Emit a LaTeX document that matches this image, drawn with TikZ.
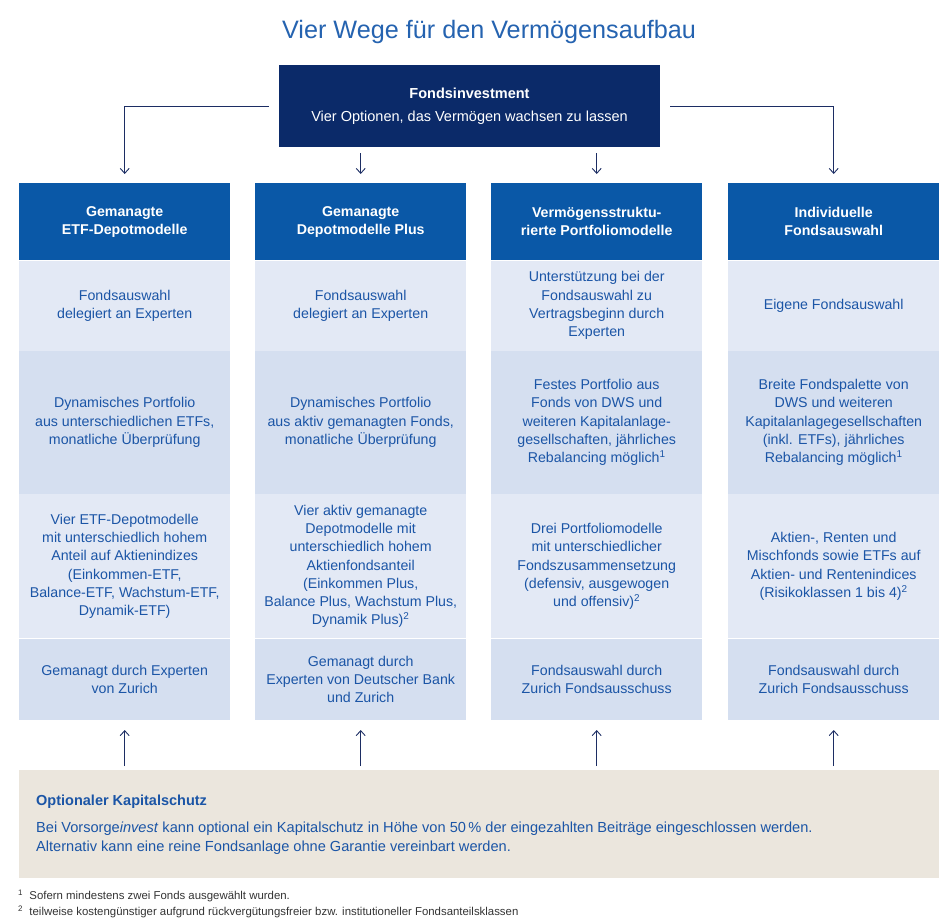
\documentclass[tikz,border=0pt]{standalone}
\usepackage{fontspec}
\setmainfont{Liberation Sans}
\usetikzlibrary{arrows.meta,positioning,calc}

\definecolor{titleblue}{HTML}{2563B0}
\definecolor{navy}{HTML}{0B2A69}
\definecolor{headblue}{HTML}{0A58A7}
\definecolor{rowlight}{HTML}{E3E9F5}
\definecolor{rowdark}{HTML}{D5DFF0}
\definecolor{textblue}{HTML}{1B55A6}
\definecolor{linknavy}{HTML}{1C2D63}
\definecolor{beige}{HTML}{EBE6DD}
\definecolor{notegray}{HTML}{333333}

\newcommand{\fnmark}[1]{\textsuperscript{#1}}

\tikzset{
  cell/.style={inner sep=0pt,minimum width=211pt,align=center,
    font=\fontsize{14.2}{18.3}\selectfont},
  cellhead/.style={cell,fill=headblue,text=white,minimum height=77pt,
    font=\bfseries\fontsize{14.2}{18.3}\selectfont},
  celllight/.style={cell,fill=rowlight,text=textblue},
  celldark/.style={cell,fill=rowdark,text=textblue},
  link/.style={draw=linknavy,line width=0.9pt,-{Straight Barb[length=5pt,width=9pt]}},
  footnote/.style={anchor=base west,inner sep=0pt,text=notegray,font=\fontsize{11.4}{13}\selectfont}
}

\begin{document}
\begin{tikzpicture}[x=1pt,y=-1pt]
\useasboundingbox (0,0) rectangle (949,919);

% Titel
\node[text=titleblue,font=\fontsize{25.2}{30}\selectfont] (title) at (489,32) {Vier Wege f\"ur den Verm\"ogensaufbau};

% Fondsinvestment
\node[fill=navy,text=white,minimum width=381pt,minimum height=82pt,align=center,
  font=\fontsize{14.5}{18.3}\selectfont] (fonds) at (469.5,106)
  {\textbf{Fondsinvestment}\\[5pt]Vier Optionen, das Verm\"ogen wachsen zu lassen};

% Spalte 1
\node[cellhead,anchor=north west] (h1) at (19,183) {Gemanagte\\ETF-Depotmodelle};
\node[celllight,minimum height=90pt,below=0pt of h1] (r11) {Fondsauswahl\\delegiert an Experten};
\node[celldark,minimum height=143pt,below=0pt of r11] (r12) {Dynamisches Portfolio\\aus unterschiedlichen ETFs,\\monatliche \"Uberpr\"ufung};
\node[celllight,minimum height=144pt,below=0pt of r12] (r13) {Vier ETF-Depotmodelle\\mit unterschiedlich hohem\\Anteil auf Aktienindizes\\(Einkommen-ETF,\\Balance-ETF, Wachstum-ETF,\\Dynamik-ETF)};
\node[celldark,minimum height=81pt,below=0pt of r13] (r14) {Gemanagt durch Experten\\von Zurich};

% Spalte 2
\node[cellhead,anchor=north west] (h2) at (255,183) {Gemanagte\\Depotmodelle Plus};
\node[celllight,minimum height=90pt,below=0pt of h2] (r21) {Fondsauswahl\\delegiert an Experten};
\node[celldark,minimum height=143pt,below=0pt of r21] (r22) {Dynamisches Portfolio\\aus aktiv gemanagten Fonds,\\monatliche \"Uberpr\"ufung};
\node[celllight,minimum height=144pt,below=0pt of r22] (r23) {Vier aktiv gemanagte\\Depotmodelle mit\\unterschiedlich hohem\\Aktienfondsanteil\\(Einkommen Plus,\\Balance Plus, Wachstum Plus,\\Dynamik Plus)\fnmark{2}};
\node[celldark,minimum height=81pt,below=0pt of r23] (r24) {Gemanagt durch\\Experten von Deutscher Bank\\und Zurich};

% Spalte 3
\node[cellhead,anchor=north west] (h3) at (491,183) {Verm\"ogensstruktu-\\rierte Portfoliomodelle};
\node[celllight,minimum height=90pt,below=0pt of h3] (r31) {Unterst\"utzung bei der\\Fondsauswahl zu\\Vertragsbeginn durch\\Experten};
\node[celldark,minimum height=143pt,below=0pt of r31] (r32) {Festes Portfolio aus\\Fonds von DWS und\\weiteren Kapitalanlage-\\gesellschaften, j\"ahrliches\\Rebalancing m\"oglich\fnmark{1}};
\node[celllight,minimum height=144pt,below=0pt of r32] (r33) {Drei Portfoliomodelle\\mit unterschiedlicher\\Fondszusammensetzung\\(defensiv, ausgewogen\\und offensiv)\fnmark{2}};
\node[celldark,minimum height=81pt,below=0pt of r33] (r34) {Fondsauswahl durch\\Zurich Fondsausschuss};

% Spalte 4
\node[cellhead,anchor=north west] (h4) at (728,183) {Individuelle\\Fondsauswahl};
\node[celllight,minimum height=90pt,below=0pt of h4] (r41) {Eigene Fondsauswahl};
\node[celldark,minimum height=143pt,below=0pt of r41] (r42) {Breite Fondspalette von\\DWS und weiteren\\Kapitalanlagegesellschaften\\(inkl. ETFs), j\"ahrliches\\Rebalancing m\"oglich\fnmark{1}};
\node[celllight,minimum height=144pt,below=0pt of r42] (r43) {Aktien-, Renten und\\Mischfonds sowie ETFs auf\\Aktien- und Rentenindices\\(Risikoklassen 1 bis 4)\fnmark{2}};
\node[celldark,minimum height=81pt,below=0pt of r43] (r44) {Fondsauswahl durch\\Zurich Fondsausschuss};

% Kapitalschutz
\node[fill=beige,minimum width=920pt,minimum height=108pt,inner sep=0pt,anchor=north west] (schutz) at (19,770) {};
\node[anchor=base west,inner sep=0pt,text=textblue,font=\bfseries\fontsize{14.5}{18.3}\selectfont] (schutztitel) at (36,805) {Optionaler Kapitalschutz};
\node[anchor=north west,inner sep=0pt,align=left,text=textblue,font=\fontsize{14.6}{18.3}\selectfont] (schutztext) at (36,822)
  {Bei Vorsorge\textit{invest} kann optional ein Kapitalschutz in H\"ohe von 50\,\% der eingezahlten Beitr\"age eingeschlossen werden.\\
   Alternativ kann eine reine Fondsanlage ohne Garantie vereinbart werden.};

% Fussnoten
\node[footnote] (fn1) at (18,899) {\fnmark{1}\ \ Sofern mindestens zwei Fonds ausgew\"ahlt wurden.};
\node[footnote] (fn2) at (18,915) {\fnmark{2}\ \ teilweise kosteng\"unstiger aufgrund r\"uckverg\"utungsfreier bzw. institutioneller Fondsanteilsklassen};

% Pfeile oben
\draw[link] ([xshift=-10pt]fonds.west) -| ([yshift=9pt]h1.north);
\draw[link] ([xshift=10pt]fonds.east) -| ([yshift=9pt]h4.north);
\draw[link] ($(fonds.south -| h2.north)+(0,6)$) -- ([yshift=9pt]h2.north);
\draw[link] ($(fonds.south -| h3.north)+(0,6)$) -- ([yshift=9pt]h3.north);

% Pfeile unten
\draw[link] ($(schutz.north -| r14.south)+(0,-4)$) -- ([yshift=-10pt]r14.south);
\draw[link] ($(schutz.north -| r24.south)+(0,-4)$) -- ([yshift=-10pt]r24.south);
\draw[link] ($(schutz.north -| r34.south)+(0,-4)$) -- ([yshift=-10pt]r34.south);
\draw[link] ($(schutz.north -| r44.south)+(0,-4)$) -- ([yshift=-10pt]r44.south);
\end{tikzpicture}
\end{document}
